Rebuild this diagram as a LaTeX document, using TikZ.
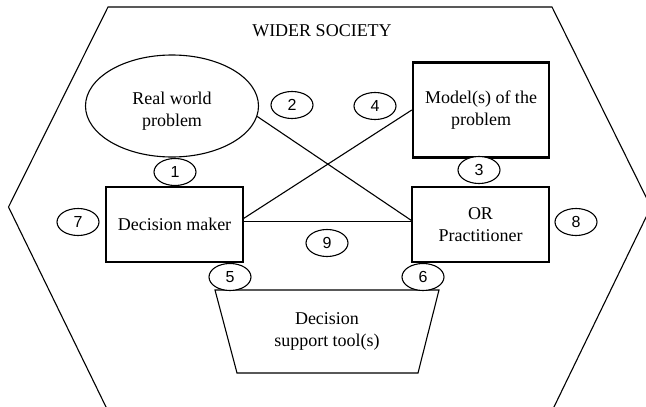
\documentclass[tikz,border=0pt]{standalone}
\usepackage{fontspec}
\setmainfont{Liberation Serif}
\newfontfamily\numfont{Liberation Sans}
\usetikzlibrary{positioning,shapes.geometric}

\begin{document}
\begin{tikzpicture}[x=1pt, y=-1pt, line width=1.1pt,
    font=\fontsize{18}{21.5}\selectfont,
    box/.style = {rectangle, draw, fill=white, align=center, inner sep=0pt, minimum width=137pt, minimum height=75pt},
    num/.style = {ellipse, draw, fill=white, inner sep=0pt, minimum width=42pt, minimum height=27pt, font=\numfont\fontsize{16}{16}\selectfont}]
    \useasboundingbox (0,0) rectangle (646,407);
    \clip (0,0) rectangle (646,407);

    % the society around everything
    \draw (108,7) -- (552,7) -- (651,207) -- (553,409) -- (107,409) -- (8.5,207) -- cycle;
    \node at (322,31) {WIDER SOCIETY};

    \node[ellipse, draw, fill=white, inner sep=0pt, minimum width=173pt, minimum height=102pt] (rw) at (172,106) {};
    \node[align=center] (rwtext) at (172,111) {Real world\\problem};
    \node[box, line width=2.4pt, minimum width=136pt, minimum height=95pt] (mod) at (481,110) {Model(s) of the\\problem};
    \node[box] (dm) at (174.5,224.5) {Decision maker};
    \node[box] (or) at (480.5,224.5) {OR\\Practitioner};

    % tool tray, wider at the top
    \coordinate (dst-tl) at (215,290);
    \coordinate (dst-tr) at (439,290);
    \coordinate (dst-br) at (418,373);
    \coordinate (dst-bl) at (237,373);
    \draw[fill=white] (dst-tl) -- (dst-tr) -- (dst-br) -- (dst-bl) -- cycle;
    \node[align=center] (dst) at (327,331.5) {Decision\\support tool(s)};

    \draw (rw.-7) -- ([yshift=4pt]or.west);
    \draw ([yshift=6pt]dm.east) -- (mod.west);
    \draw ([yshift=3pt]dm.east) -- ([yshift=3pt]or.west);

    % numbered links
    \node[num] (n1) at (175,172) {1};
    \node[num] (n2) at (292,105) {2};
    \node[num] (n3) at (479,170) {3};
    \node[num] (n4) at (375,106) {4};
    \node[num] (n5) at (230,277) {5};
    \node[num] (n6) at (423,277) {6};
    \node[num] (n7) at (78,222) {7};
    \node[num] (n8) at (576,222) {8};
    \node[num] (n9) at (327,243) {9};

\end{tikzpicture}
\end{document}
